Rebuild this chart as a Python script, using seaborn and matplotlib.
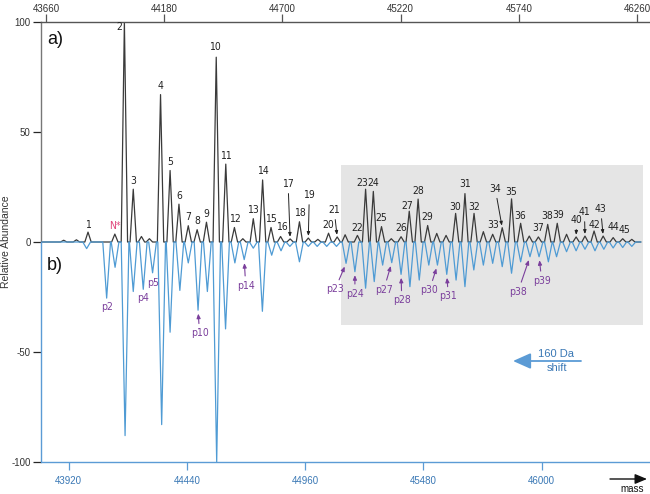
import matplotlib
matplotlib.use("Agg")
import matplotlib.pyplot as plt
from matplotlib import font_manager
from matplotlib.font_manager import FontProperties
import numpy as np
import pandas as pd
import seaborn as sns

# ---------------- data ----------------
SHIFT = 160  # bottom axis = top axis + 160 Da

top_ticks = [43660, 44180, 44700, 45220, 45740, 46260]
bottom_ticks = [43920, 44440, 44960, 45480, 46000]

# a) labelled peaks (top-axis mass, relative abundance)
top_labels = ['1', 'N*', '2', '3', '4', '5', '6', '7', '8', '9', '10', '11', '12', '13', '14', '15',
              '16', '17', '18', '19', '20', '21', '22', '23', '24', '25', '26', '27', '28', '29', '30',
              '31', '32', '33', '34', '35', '36', '37', '38', '39', '40', '41', '42', '43', '44', '45']
top_mass = [43845, 43963, 44005, 44044, 44164, 44206, 44245, 44286, 44325, 44366, 44409, 44451, 44489,
            44572, 44613, 44650, 44692, 44734, 44775, 44814, 44903, 44941, 45030, 45066, 45100, 45136,
            45222, 45258, 45297, 45339, 45462, 45503, 45543, 45625, 45667, 45708, 45748, 45826, 45867,
            45909, 45992, 46031, 46071, 46111, 46155, 46197]
top_height = [4.5, 3.6, 100, 24, 67, 32.5, 17.2, 7.4, 5.6, 9, 84, 35.4, 6.6,
              10.6, 28.2, 6.6, 2.5, 1.4, 9.2, 1.8, 4, 2.3, 3, 24, 23, 7,
              2.4, 14, 19.5, 7.5, 13, 22, 13, 3.5, 6.5, 19.6, 8.5, 2.3, 8,
              8.5, 2.3, 2.7, 5, 2.7, 2, 1.5]
# a) unlabelled minor peaks
top_minor_mass = [43738, 43794, 44080, 44115, 44526, 44856, 44976, 45179, 45379, 45420, 45584,
                  45786, 45950, 46237]
top_minor_height = [0.8, 1.0, 2.5, 1.5, 1.5, 1.2, 3.3, 1.5, 3.9, 3.0, 4.7, 2.7, 3.5, 1.2]

# b) peaks (bottom-axis mass, depth in relative abundance, drawn downward)
bottom_mass = [43999, 44087, 44124, 44168, 44204, 44248, 44289, 44329, 44366, 44409, 44446, 44489,
               44530, 44571, 44610, 44651, 44692, 44732, 44772, 44813, 44854, 44893, 44935, 44974,
               45013, 45055, 45098, 45140, 45179, 45226, 45264, 45301, 45341, 45382, 45421, 45462,
               45504, 45542, 45583, 45624, 45663, 45702, 45744, 45785, 45827, 45868, 45908, 45949,
               45989, 46030, 46066, 46110, 46152, 46191, 46235, 46274, 46315, 46357, 46397]
bottom_depth = [3, 25.5, 11.5, 88, 22.5, 21.5, 14, 83, 41, 22, 9.5, 31,
                22.5, 100, 39.5, 9.5, 8, 2.8, 31.5, 6, 4, 2, 9, 2,
                2, 2, 2, 9.7, 13.5, 21, 18, 10.5, 9.4, 14.7, 20.3, 17.3,
                10.5, 10.5, 14.7, 17.3, 20.3, 12.7, 10.5, 9.7, 11.2, 14.2, 9, 6.7,
                6.7, 9, 6.7, 4.4, 4, 3.3, 4, 3.3, 2.7, 2.5, 2]
p_labels = ['p2', 'p4', 'p5', 'p10', 'p14', 'p23', 'p24', 'p27', 'p28', 'p30', 'p31', 'p38', 'p39']
p_label_mass = [44087, 44248, 44289, 44489, 44692, 45140, 45179, 45341, 45382, 45542, 45583, 45949, 45989]

# shaded region (top-axis mass range, abundance range)
region_mass = [44957, 46286]
region_abund = [-37.5, 34.8]

trace_start, trace_end = 43642, 46277   # top-axis mass span of the traces

# ---------------- style / layout ----------------
sns.set_theme(style="white")
avail = {f.name for f in font_manager.fontManager.ttflist}
SANS = "Liberation Sans" if "Liberation Sans" in avail else "DejaVu Sans"
plt.rcParams["font.family"] = [SANS, "DejaVu Sans"]

# a narrow face for the peak labels, if one is installed
narrow_path = None
for f in font_manager.fontManager.ttflist:
    name = f.name
    if (("Narrow" in name or "Condensed" in name or f.stretch in ("condensed", "semi-condensed"))
            and f.style == "normal" and f.weight in (400, "normal", "regular")):
        narrow_path = f.fname
        break
if narrow_path:
    LAB_FP = FontProperties(fname=narrow_path, size=7.5)
else:
    LAB_FP = FontProperties(family=SANS, size=6.8)

BLACK_TR = "#3a3a3a"
BLUE_TR = "#4f9bd4"
BLUE_AX = "#5b9bd5"
BLUE_TXT = "#3a78b5"
GRAY_AX = "#555555"
PURPLE = "#7b3f9c"
PINK = "#e0457b"

W, H = 650, 494
fig = plt.figure(figsize=(W / 100, H / 100), dpi=100)
ax = fig.add_axes([40.5 / W, 32 / H, 609.5 / W, 440 / H])
XLIM = (43636, 46317)


def profile(masses, heights, half_width, start, end):
    xs, ys = [start], [0.0]
    for m, h in sorted(zip(masses, heights)):
        xs += [m - half_width, m, m + half_width]
        ys += [0.0, h, 0.0]
    xs.append(end)
    ys.append(0.0)
    return pd.DataFrame({"mass": xs, "intensity": ys})


top_df = profile(top_mass + top_minor_mass, top_height + top_minor_height, 14, trace_start, trace_end)
bot_df = profile([m - SHIFT for m in bottom_mass], [-d for d in bottom_depth], 17,
                 trace_start, trace_end)

ax.add_patch(plt.Rectangle((region_mass[0], region_abund[0]), region_mass[1] - region_mass[0],
                           region_abund[1] - region_abund[0], facecolor="#e5e5e5", lw=0, zorder=0))

sns.lineplot(data=top_df, x="mass", y="intensity", estimator=None, sort=False, ax=ax,
             color=BLACK_TR, lw=0.9, zorder=2)
sns.lineplot(data=bot_df, x="mass", y="intensity", estimator=None, sort=False, ax=ax,
             color=BLUE_TR, lw=0.9, zorder=3)

ax.set_xlim(*XLIM)
ax.set_ylim(-100, 100)
ax.set_xlabel("")
ax.set_ylabel("")

# top axis
ax.xaxis.tick_top()
ax.set_xticks(top_ticks)
ax.set_xticklabels([str(t) for t in top_ticks])
ax.tick_params(axis="x", direction="out", length=5.5, width=0.9, color=GRAY_AX,
               labelsize=7, labelcolor="#333333", pad=0.5)
# bottom axis (shifted by 160 Da)
sec = ax.secondary_xaxis("bottom", functions=(lambda x: x + SHIFT, lambda x: x - SHIFT))
sec.set_xticks(bottom_ticks)
sec.set_xticklabels([str(t) for t in bottom_ticks])
sec.tick_params(direction="out", length=6, width=0.9, color=BLUE_AX, labelsize=7,
                labelcolor=BLUE_TXT, pad=4)
sec.spines["bottom"].set_color(BLUE_AX)
sec.spines["bottom"].set_linewidth(1.0)

for s in ["right", "bottom"]:
    ax.spines[s].set_visible(False)
ax.spines["top"].set_color(GRAY_AX)
ax.spines["top"].set_linewidth(1.0)
ax.spines["left"].set_color("#777777")
ax.spines["left"].set_linewidth(1.0)
ax.spines["left"].set_bounds(0, 100)
ax.axvline(XLIM[0], ymin=0, ymax=0.5, color=BLUE_AX, lw=1.0, clip_on=False, zorder=5)

ax.set_yticks([100, 50, 0, -50, -100])
ax.set_yticklabels(["100", "50", "0", "-50", "-100"])
ax.tick_params(axis="y", direction="out", length=6, width=0.9, labelsize=7,
               labelcolor="#333333", pad=1, left=True)
for val, tk in zip([100, 50, 0, -50, -100], ax.yaxis.get_major_ticks()):
    tk.tick1line.set_color(GRAY_AX if val > 0 else ("#2b5f8a" if val == 0 else BLUE_AX))

# ---------------- peak labels ----------------
top_offsets = {'2': (-5, -5), '1': (0, 7), '10': (-1, 10), '16': (1.5, 10), '22': (0, 7),
               '23': (-3.5, 6.5), '27': (-1.5, 5.5), '30': (0, 6), '31': (0, 10), '32': (0.5, 6),
               '33': (0, 9.5), '35': (0, 7), '36': (-0.5, 7), '42': (0, 6), '44': (0, 11),
               '38': (-1, 8.5), '39': (0.5, 8.5), '45': (1.5, 8.5)}
leader_offsets = {'17': (-2, 55), '19': (1, 43), '21': (-3, 27), '34': (-7, 39),
                  '40': (0.5, 17), '41': (-0.5, 24), '43': (-2.5, 27)}
for lab, m, h in zip(top_labels, top_mass, top_height):
    color = PINK if lab == 'N*' else "#222222"
    if lab in leader_offsets:
        ax.annotate(lab, xy=(m, h), xytext=leader_offsets[lab], textcoords="offset pixels",
                    ha="center", va="center", fontproperties=LAB_FP, color=color,
                    arrowprops=dict(arrowstyle="-|>,head_length=0.3,head_width=0.12", lw=0.7,
                                    color="#222222", shrinkA=1, shrinkB=1.5), zorder=6)
    else:
        off = top_offsets.get(lab, (0, 8.5))
        ax.annotate(lab, xy=(m, h), xytext=off, textcoords="offset pixels", ha="center",
                    va="center", fontproperties=LAB_FP, color=color, zorder=6)

p_offsets = {'p2': (0, -9), 'p4': (0, -9), 'p5': (0, -10), 'p10': (1.5, -23), 'p14': (1.5, -26),
             'p23': (-11, -26), 'p24': (0, -22), 'p27': (-8, -27), 'p28': (0.7, -26),
             'p30': (-8, -25), 'p31': (1.6, -22), 'p38': (-12, -35), 'p39': (2.7, -24)}
no_arrow = {'p2', 'p4', 'p5'}
depth_of = dict(zip(bottom_mass, bottom_depth))
for lab, m in zip(p_labels, p_label_mass):
    xy = (m - SHIFT, -depth_of[m])
    kw = dict(xytext=p_offsets[lab], textcoords="offset pixels", ha="center", va="center",
              fontproperties=LAB_FP, color=PURPLE, zorder=6)
    if lab not in no_arrow:
        kw["arrowprops"] = dict(arrowstyle="-|>,head_length=0.35,head_width=0.15", lw=0.8,
                                color=PURPLE, shrinkA=1, shrinkB=2.5)
    ax.annotate(lab, xy=xy, **kw)

# ---------------- other text ----------------
def fp(px, py):
    return (px / W, 1 - py / H)

fig.text(*fp(47, 40), "a)", fontsize=13, ha="left", va="center", color="#111111")
fig.text(*fp(47, 265), "b)", fontsize=13, ha="left", va="center", color="#111111")
fig.text(*fp(6, 242), "Relative Abundance", fontsize=7.5, rotation=90, ha="center", va="center",
         color="#333333")

ax.annotate("", xy=(513, H - 361), xycoords="figure pixels", xytext=(581, H - 361),
            arrowprops=dict(arrowstyle="-|>,head_length=0.9,head_width=0.4", lw=1.3,
                            color=BLUE_AX, shrinkA=0, shrinkB=0))
fig.text(*fp(556, 354), "160 Da", fontsize=8, ha="center", va="center", color=BLUE_TXT)
fig.text(*fp(557, 368), "shift", fontsize=8, ha="center", va="center", color=BLUE_TXT)

ax.annotate("", xy=(647, H - 479), xycoords="figure pixels", xytext=(610, H - 479),
            arrowprops=dict(arrowstyle="-|>,head_length=0.6,head_width=0.25", lw=1.0,
                            color="#111111", shrinkA=0, shrinkB=0))
fig.text(*fp(632, 489), "mass", fontsize=7, ha="center", va="center", color="#111111")

fig.savefig("out.png", dpi=100)
